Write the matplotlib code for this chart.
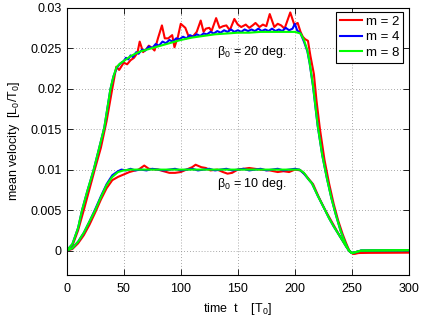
import matplotlib
matplotlib.use("Agg")
import matplotlib.pyplot as plt

plt.rcParams['font.family'] = ['Liberation Sans', 'DejaVu Sans']
plt.rcParams['mathtext.fontset'] = 'custom'
plt.rcParams['mathtext.rm'] = 'Liberation Sans'
plt.rcParams['mathtext.it'] = 'Liberation Sans:italic'

# ---------------- data ----------------
# beta0 = 20 deg, m = 8 (green, smooth)
t_g20 = [0, 5, 10, 13.5, 18, 23.7, 28, 33, 38.3, 41, 43.6, 46, 50, 55, 60, 65, 70, 75, 80, 90,
         100, 110, 120, 130, 140, 150, 160, 170, 180, 190, 200, 205, 208, 211, 213, 216, 220,
         224, 228, 232, 236, 240, 244, 247, 250, 253, 258, 270, 300]
v_g20 = [0, 0.0008, 0.0028, 0.0050, 0.0073, 0.0100, 0.0124, 0.0152, 0.0199, 0.0215, 0.0226,
         0.0230, 0.0234, 0.0239, 0.0243, 0.0246, 0.0248, 0.0250, 0.0252, 0.0256,
         0.0260, 0.0263, 0.0265, 0.0267, 0.0268, 0.0269, 0.0269, 0.0270, 0.0270, 0.0270,
         0.0270, 0.0268, 0.0260, 0.0247, 0.0232, 0.0203, 0.0155, 0.0118, 0.0090, 0.0065,
         0.0044, 0.0025, 0.0010, 0.0001, -0.0003, -0.0002, 0.0, 0.00002, 0.00005]

# beta0 = 20 deg, m = 4 (blue)
t_b20 = [0, 5, 10, 13.5, 18, 23.7, 28, 33, 38.3, 41, 44, 47, 50, 52, 54, 56, 58, 61, 63, 66,
         69, 72, 75, 78, 81, 84, 87, 90, 93, 96, 99, 102, 105, 108, 111, 114, 117, 120, 123,
         126, 129, 132, 135, 138, 141, 144, 147, 150, 153, 156, 159, 162, 165, 168, 171, 174,
         177, 180, 183, 186, 189, 192, 195, 198, 200, 202, 205, 208, 211, 213, 216, 220, 224,
         228, 232, 236, 240, 244, 247, 250, 253, 258, 270, 300]
v_b20 = [0, 0.0008, 0.0028, 0.0050, 0.0073, 0.0100, 0.0124, 0.0152, 0.0199, 0.0215, 0.0226,
         0.0231, 0.0234, 0.0238, 0.0236, 0.0241, 0.0239, 0.0245, 0.0243, 0.0248,
         0.0247, 0.0252, 0.0250, 0.0255, 0.0253, 0.0258, 0.0256, 0.0260, 0.0258, 0.0262,
         0.0261, 0.0264, 0.0262, 0.0266, 0.0264, 0.0267, 0.0265, 0.0268, 0.0267,
         0.0270, 0.0268, 0.0271, 0.0269, 0.0272, 0.0270, 0.0273, 0.0270, 0.0272, 0.0270,
         0.0273, 0.0271, 0.0273, 0.0271, 0.0274, 0.0271, 0.0273, 0.0271, 0.0274, 0.0271,
         0.0273, 0.0271, 0.0275, 0.0272, 0.0274, 0.0280, 0.0272, 0.0268, 0.0258, 0.0246,
         0.0231, 0.0202, 0.0154, 0.0118, 0.0090, 0.0065, 0.0044, 0.0025, 0.0010, 0.0001,
         -0.0003, -0.0002, 0.0, 0.00002, 0.00004]

# beta0 = 20 deg, m = 2 (red, noisy)
t_r20 = [0, 5, 10, 15, 20, 25, 30, 35, 40, 43.5, 46, 50, 53, 56, 59, 62, 64, 67, 70, 72, 75,
         77, 80, 83.5, 86, 89, 92.5, 94.5, 97.5, 100, 104, 107, 111, 114, 117.5, 120, 122,
         125, 127, 131, 134, 137, 140, 143, 147, 150, 153, 157, 160, 163, 165.5, 169, 172,
         175, 178, 182, 185, 188, 191, 196, 199.5, 202.5, 205, 207, 209, 211.5, 213.7, 216.7,
         219, 222, 226, 230, 234, 238, 242, 245, 248, 251, 254, 260, 300]
v_r20 = [0, 0.0006, 0.0025, 0.0050, 0.0076, 0.0102, 0.0127, 0.0160, 0.0200, 0.0227, 0.0223,
         0.0232, 0.0230, 0.0235, 0.0238, 0.0244, 0.0258, 0.0245, 0.0249, 0.0253, 0.0250,
         0.0247, 0.0262, 0.0278, 0.0262, 0.0262, 0.0266, 0.0251, 0.0264, 0.0280, 0.0275,
         0.0264, 0.0265, 0.0270, 0.0284, 0.0270, 0.0274, 0.0275, 0.0271, 0.0287, 0.0275,
         0.0277, 0.0278, 0.0272, 0.0286, 0.0279, 0.0276, 0.0279, 0.0275, 0.0278, 0.0281,
         0.0276, 0.0279, 0.0277, 0.0292, 0.0276, 0.0280, 0.0278, 0.0274, 0.0294, 0.0279,
         0.0281, 0.0270, 0.0264, 0.0261, 0.0259, 0.0240, 0.0218, 0.0185, 0.0150, 0.0112,
         0.0083, 0.0058, 0.0037, 0.0020, 0.0009, -0.0001, -0.0004, -0.0003, -0.00025, -0.00022]

# beta0 = 10 deg, m = 8 (green, smooth)
t_g10 = [0, 5, 10, 15, 20, 25, 30, 35, 40, 45, 50, 55, 100, 150, 200, 204, 208, 212, 215,
         220, 226.5, 230, 234, 238, 242, 245, 248, 250, 253, 258, 270, 300]
v_g10 = [0, 0.0003, 0.0011, 0.0022, 0.0036, 0.0050, 0.0066, 0.0081, 0.0091, 0.0097, 0.0099,
         0.0100, 0.0100, 0.0100, 0.0100, 0.0100, 0.0096, 0.0088, 0.0083, 0.0068, 0.0050,
         0.0040, 0.0030, 0.0021, 0.0012, 0.0005, -0.0001, -0.0003, -0.0002, 0.0, 0.00002,
         0.00005]

# beta0 = 10 deg, m = 4 (blue)
t_b10 = [0, 5, 10, 15, 20, 25, 30, 35, 40, 45, 48, 52, 56, 60, 65, 70, 75, 80, 85, 90, 95,
         100, 105, 110, 115, 120, 125, 130, 135, 140, 145, 150, 155, 160, 165, 170, 175, 180,
         185, 190, 195, 200, 204, 208, 212, 215, 220, 226.5, 230, 234, 238, 242, 245, 248,
         250, 253, 258, 270, 300]
v_b10 = [0, 0.0003, 0.0011, 0.0022, 0.0036, 0.0051, 0.0067, 0.0082, 0.0093, 0.0098, 0.0100,
         0.0099, 0.0101, 0.0099, 0.0100, 0.0099, 0.0101, 0.0100, 0.0099, 0.0100, 0.0101,
         0.0099, 0.0100, 0.0101, 0.0099, 0.0100, 0.0101, 0.0099, 0.0100, 0.0101, 0.0099,
         0.0100, 0.0101, 0.0099, 0.0100, 0.0101, 0.0099, 0.0100, 0.0101, 0.0099, 0.0100,
         0.0101, 0.0100, 0.0095, 0.0088, 0.0083, 0.0068, 0.0050, 0.0040, 0.0030, 0.0021,
         0.0012, 0.0005, -0.0001, -0.0003, -0.0002, 0.0, 0.00002, 0.00004]

# beta0 = 10 deg, m = 2 (red)
t_r10 = [0, 5, 10, 15, 20, 25, 30, 35, 40, 45, 50, 55, 60, 63, 68, 72, 80, 90, 95, 100, 105,
         110, 113, 118, 122, 126, 132, 137, 141, 145, 150, 155, 160, 165, 170, 178, 185, 190,
         195, 200, 205, 209, 213, 216, 221, 227, 231, 235, 239, 243, 246, 249, 252, 256, 265,
         300]
v_r10 = [0, 0.0002, 0.0009, 0.0019, 0.0032, 0.0047, 0.0063, 0.0077, 0.0087, 0.0091, 0.0094,
         0.0097, 0.0099, 0.0100, 0.0105, 0.0101, 0.0100, 0.0096, 0.0096, 0.0097, 0.0100,
         0.0103, 0.0106, 0.0103, 0.0102, 0.0099, 0.0100, 0.0097, 0.0095, 0.0096, 0.0100,
         0.0101, 0.0102, 0.0101, 0.0100, 0.0099, 0.0097, 0.0098, 0.0097, 0.0100, 0.0099,
         0.0094, 0.0087, 0.0082, 0.0066, 0.0049, 0.0039, 0.0029, 0.0019, 0.0010, 0.0003,
         -0.0002, -0.0004, -0.0003, -0.00025, -0.00022]

x_ticks = [0, 50, 100, 150, 200, 250, 300]
y_ticks = [0, 0.005, 0.01, 0.015, 0.02, 0.025, 0.03]
y_tick_labels = ['0', '0.005', '0.01', '0.015', '0.02', '0.025', '0.03']
legend_labels = ['m = 2', 'm = 4', 'm = 8']

# ---------------- figure ----------------
fig = plt.figure(figsize=(4.22, 3.16), dpi=100)
ax = fig.add_axes([0.158, 0.130, 0.811, 0.846])

lw = 1.5
l1, = ax.plot(t_r20, v_r20, color=(1, 0, 0), lw=lw, label=legend_labels[0])
ax.plot(t_r10, v_r10, color=(1, 0, 0), lw=lw)
l2, = ax.plot(t_b20, v_b20, color=(0, 0, 1), lw=lw, label=legend_labels[1])
ax.plot(t_b10, v_b10, color=(0, 0, 1), lw=lw)
l3, = ax.plot(t_g20, v_g20, color=(0, 1, 0), lw=lw, label=legend_labels[2])
ax.plot(t_g10, v_g10, color=(0, 1, 0), lw=lw)

ax.set_xlim(0, 300)
ax.set_ylim(-0.003, 0.03)
ax.set_xticks(x_ticks)
ax.set_xticklabels([str(v) for v in x_ticks])
ax.set_yticks(y_ticks)
ax.set_yticklabels(y_tick_labels)
ax.tick_params(direction='in', length=4, width=0.6, top=True, right=True, labelsize=9,
               colors='black')
ax.tick_params(axis='x', pad=6)
for s in ax.spines.values():
    s.set_linewidth(0.8)
ax.grid(True, linestyle=(0, (1, 2.5)), color='0.55', linewidth=0.6)
ax.set_axisbelow(True)

ax.set_xlabel('time  t    [T$_0$]', fontsize=9)
ax.set_ylabel('mean velocity  [L$_0$/T$_0$]', fontsize=9, labelpad=6)

ax.text(131.5, 0.02457, 'β$_0$ = 20 deg.', fontsize=9, ha='left', va='center')
ax.text(131.5, 0.00819, 'β$_0$ = 10 deg.', fontsize=9, ha='left', va='center')

leg = ax.legend(handles=[l1, l2, l3], loc='upper right', bbox_to_anchor=(0.983, 0.985),
                borderaxespad=0, fancybox=False, framealpha=1, edgecolor='black',
                fontsize=9.5, handlelength=1.7, handletextpad=0.25, borderpad=0.3,
                labelspacing=0.25)
leg.get_frame().set_linewidth(0.8)

fig.savefig('out.png', dpi=100)
